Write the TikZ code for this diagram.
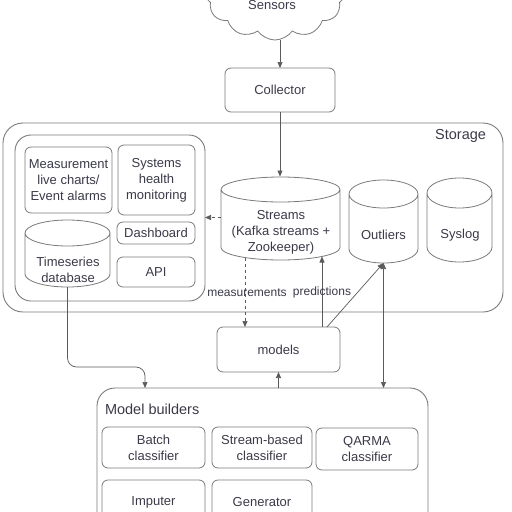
\documentclass[tikz,border=0pt]{standalone}
\usepackage{fontspec}
\setmainfont{Liberation Sans}
\usetikzlibrary{shapes.geometric,shapes.symbols,arrows.meta,calc}
\definecolor{ln}{HTML}{5A5A5A}
\definecolor{bx}{HTML}{7A7A7A}
\definecolor{tx}{HTML}{3A3A48}
% name, cx, cy, width, height, ellipse half-height
\newcommand\mycyl[6]{%
  \node[minimum width=#4pt, minimum height=#5pt] (#1) at (#2,#3) {};
  \draw[cylline] ($(#1.north west)+(0,#6)$) -- ($(#1.south west)+(0,-#6)$)
    arc[start angle=180, end angle=360, x radius={#4/2*1pt}, y radius=#6pt]
    -- ($(#1.north east)+(0,#6)$)
    arc[start angle=0, end angle=360, x radius={#4/2*1pt}, y radius=#6pt];
}
\begin{document}
\begin{tikzpicture}[x=1pt,y=-1pt,
  every node/.style={text=tx, font=\fontsize{13}{16}\selectfont, align=center, inner sep=0pt, outer sep=0pt},
  box/.style={draw=bx, line width=0.8pt, rounded corners=6pt},
  grp/.style={draw=bx, line width=0.9pt, anchor=north west},
  cylline/.style={draw=bx, line width=0.8pt},
  arr/.style={draw=ln, line width=0.7pt, -{Triangle[length=6pt,width=5pt]}},
  lbl/.style={font=\fontsize{12}{14}\selectfont},
  title/.style={font=\fontsize{14.5}{17}\selectfont}]
\useasboundingbox (0,0) rectangle (512,512);
\clip (0,0) rectangle (512,512);

% cloud
\node[cloud, cloud puffs=12, cloud puff arc=110, draw=bx, line width=0.8pt,
  minimum width=140pt, minimum height=96pt] (cloud) at (275,-8) {};
\node (sensors) at (272,5) {Sensors};

\node[box, minimum width=110pt, minimum height=44pt] (collector) at (280,90) {Collector};

% storage
\node[grp, rounded corners=20pt, minimum width=500pt, minimum height=189pt] (storage) at (3,123) {};
\node[title, anchor=east] (storagelbl) at (486,136) {Storage};
\node[grp, rounded corners=16pt, minimum width=190pt, minimum height=166pt] (grp) at (15,135) {};

\node[box, minimum width=87pt, minimum height=66pt] (meas) at (68.5,180) {Measurement\\live charts/\\Event alarms};
\node[box, minimum width=77pt, minimum height=70pt] (sys) at (156.5,180) {Systems\\health\\monitoring};
\node[box, minimum width=78pt, minimum height=22pt] (dash) at (156,233) {Dashboard};
\node[box, minimum width=78pt, minimum height=30pt] (api) at (156,272) {API};

\mycyl{tsdb}{67.5}{253.5}{85}{67}{13}
\node (tsdbt) at (68,270) {Timeseries\\database};

\mycyl{streams}{280.5}{218.5}{119}{83}{12.5}
\node (streamst) at (281,232) {Streams\\(Kafka streams +\\Zookeeper)};

\mycyl{outliers}{383.5}{221.5}{69}{83}{14}
\node (outlierst) at (383.5,235) {Outliers};

\mycyl{syslog}{459.5}{220}{65}{84}{15}
\node (syslogt) at (460,235) {Syslog};

% models
\node[box, minimum width=123pt, minimum height=45pt] (models) at (278.5,349.5) {models};

% model builders
\node[grp, rounded corners=18pt, minimum width=331pt, minimum height=180pt] (mb) at (97,388) {};
\node[title, anchor=west] (mblbl) at (105,409) {Model builders};
\node[box, minimum width=103pt, minimum height=41pt] (batch) at (153.5,447.5) {Batch\\classifier};
\node[box, minimum width=100pt, minimum height=41pt] (sbc) at (262,447.5) {Stream-based\\classifier};
\node[box, minimum width=102pt, minimum height=42pt] (qarma) at (367,449) {QARMA\\classifier};
\node[box, minimum width=103pt, minimum height=45pt] (imp) at (153.5,502.5) {Imputer};
\node[box, minimum width=100pt, minimum height=45pt] (gen) at (262,502.5) {Generator};

% connectors
\draw[arr] (cloud.south -| collector.north) -- (collector.north);
\draw[arr] (collector.south) -- ($(streams.north -| collector.south)+(0,-0.5)$);
\draw[arr, dashed] ($(streams.west)+(0,-1)$) -- ($(streams.west -| grp.east)+(0,-1)$);
\draw[arr, dashed] ($(streams.south)+(-35.5,-2.5)$) coordinate (ms) -- (ms |- models.north);
\draw[arr] (322,0 |- models.north) -- ($(streams.south)+(41.5,-3.5)$);
\draw[arr] ($(models.north)+(48.5,0)$) -- (outliers.south);
\draw[arr, {Triangle[length=6pt,width=5pt]}-{Triangle[length=6pt,width=5pt]}] (outliers.south) -- (outliers.south |- mb.north);
\draw[arr] (models.south |- mb.north) -- (models.south);
\draw[arr, rounded corners=9pt] (tsdb.south) |- (145,367) -- (145,0 |- mb.north);

\node[lbl] (measl) at (247,293) {measurements};
\node[lbl] (predl) at (322,292) {predictions};
\end{tikzpicture}
\end{document}
